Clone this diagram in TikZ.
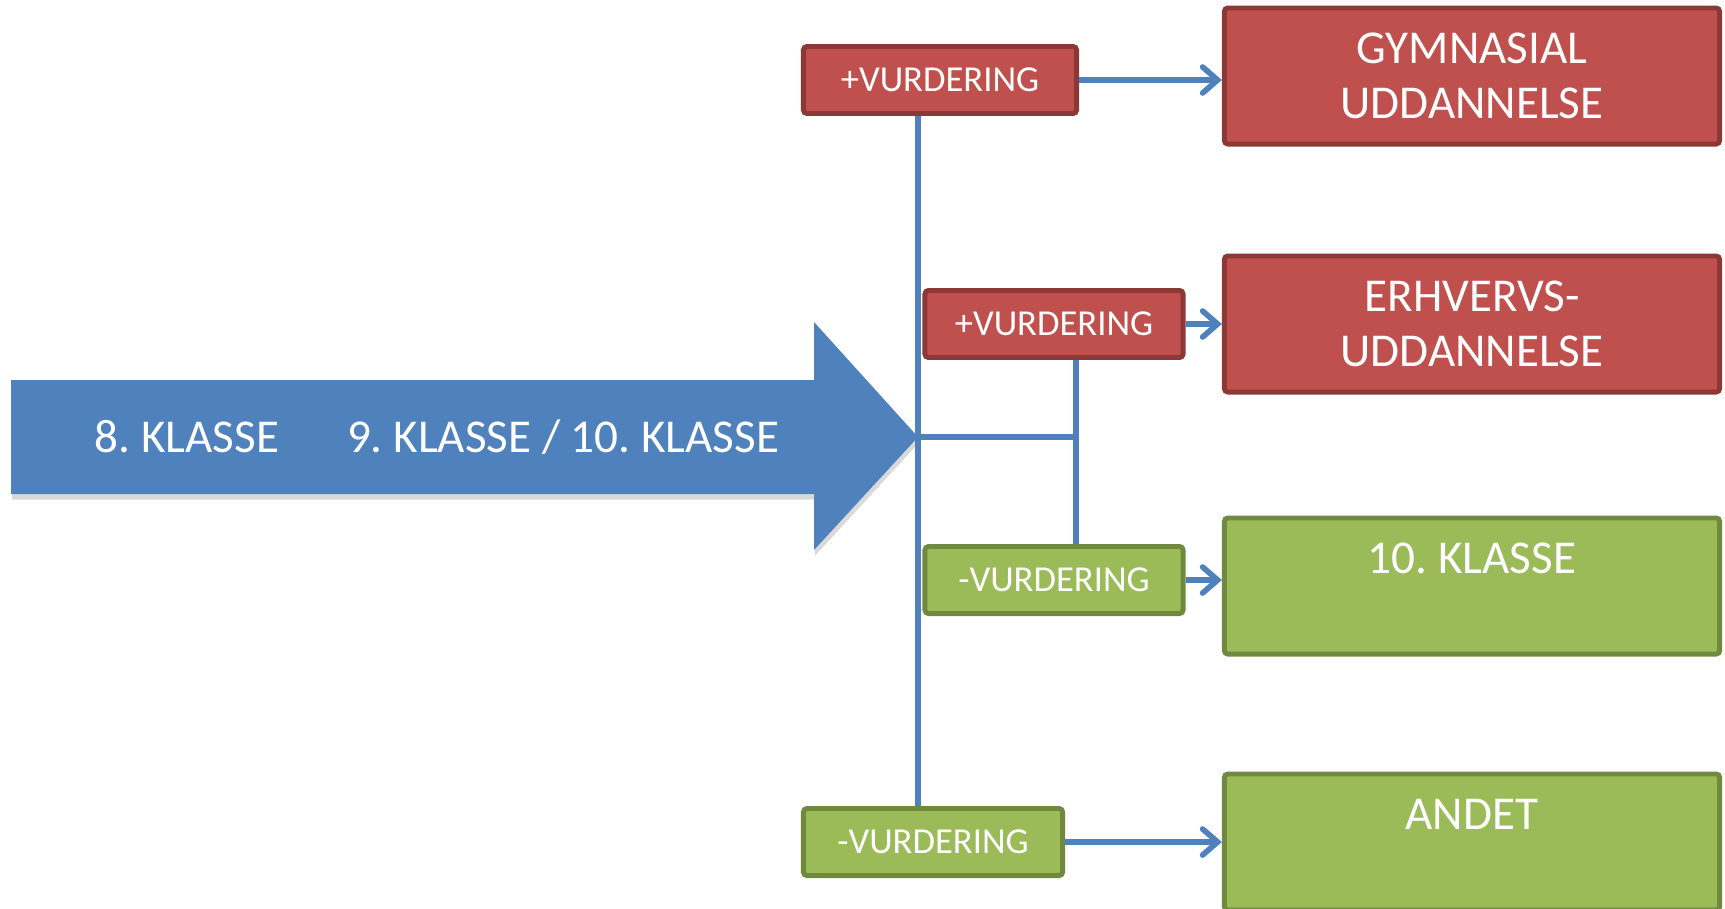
\documentclass[tikz,border=0pt]{standalone}
\usepackage{fontspec}
\setmainfont{Carlito}
\frenchspacing
\usepackage{tikz}
\usetikzlibrary{
  	positioning,
  	arrows.meta,
  	calc,
  	shadows
  }
\definecolor{vurdred}{HTML}{C0504D}
\definecolor{vurdredline}{HTML}{8C3836}
\definecolor{vurdgreen}{HTML}{9BBB59}
\definecolor{vurdgreenline}{HTML}{71893F}
\definecolor{flowblue}{HTML}{4F81BD}
\tikzstyle{vurd}=[draw,line width=1.4pt,rounded corners=1pt,text=white,font=\fontsize{10.4}{12}\selectfont,minimum height=0.67cm,inner sep=0pt]
\tikzstyle{vurdplus}=[vurd,fill=vurdred,draw=vurdredline]
\tikzstyle{vurdminus}=[vurd,fill=vurdgreen,draw=vurdgreenline]
\tikzstyle{goalbox}=[draw,line width=1.4pt,rounded corners=1pt,text=white,align=center,font=\fontsize{13.4}{15.6}\selectfont,minimum width=4.95cm,minimum height=1.36cm,inner sep=0pt]
\tikzstyle{flow}=[draw=flowblue,line width=1.6pt]
\tikzstyle{flowarr}=[flow,-{Straight Barb[length=0.15cm,width=0.26cm,line cap=round]}]

\begin{document}
\begin{tikzpicture}[x=0.01cm,y=-0.01cm]
    \useasboundingbox (0,0) rectangle (1725,908);
    % the school years
    \fill[flowblue,drop shadow={opacity=0.3,shadow xshift=0.3pt,shadow yshift=-1.6pt}]
       (11,380) -- (814,380) -- (814,322) -- (918,437) --
       (814,550) -- (814,494) -- (11,494) -- cycle;
    \node[text=white,font=\fontsize{13.4}{15.1}\selectfont] (klasse) at (437,437)
       {8. KLASSE\hspace{0.68cm}9. KLASSE / 10. KLASSE};
    \coordinate (tip) at (918,437);
    \coordinate (join) at (1076,437);
    % assessments
    \node[vurdplus,minimum width=2.73cm] (vurdA) at (940,80) {+VURDERING};
    \node[vurdplus,minimum width=2.58cm] (vurdB) at (1054,324) {+VURDERING};
    \node[vurdminus,minimum width=2.58cm] (vurdC) at (1054,580) {-VURDERING};
    \node[vurdminus,minimum width=2.59cm] (vurdD) at (933,842) {-VURDERING};
    % where they lead
    \node[goalbox,fill=vurdred,draw=vurdredline] (gym) at (1472,76) {GYMNASIAL\\UDDANNELSE};
    \node[goalbox,fill=vurdred,draw=vurdredline] (erhverv) at (1472,324) {ERHVERVS-\\UDDANNELSE};
    \node[goalbox,fill=vurdgreen,draw=vurdgreenline] (tiende) at (1472,586) {10. KLASSE\\[-0.16cm]\strut};
    \node[goalbox,fill=vurdgreen,draw=vurdgreenline] (andet) at (1472,842) {ANDET\\[-0.16cm]\strut};
    % connectors
    \draw[flow] (tip |- vurdA.south) -- (tip |- vurdD.north);
    \draw[flow] (tip) -- (join);
    \draw[flow] (join |- vurdB.south) -- (join |- vurdC.north);
    \draw[flowarr] (vurdA.east) -- (vurdA.east -| gym.west);
    \draw[flowarr] (vurdB.east) -- (vurdB.east -| erhverv.west);
    \draw[flowarr] (vurdC.east) -- (vurdC.east -| tiende.west);
    \draw[flowarr] (vurdD.east) -- (vurdD.east -| andet.west);
\end{tikzpicture}
\end{document}
